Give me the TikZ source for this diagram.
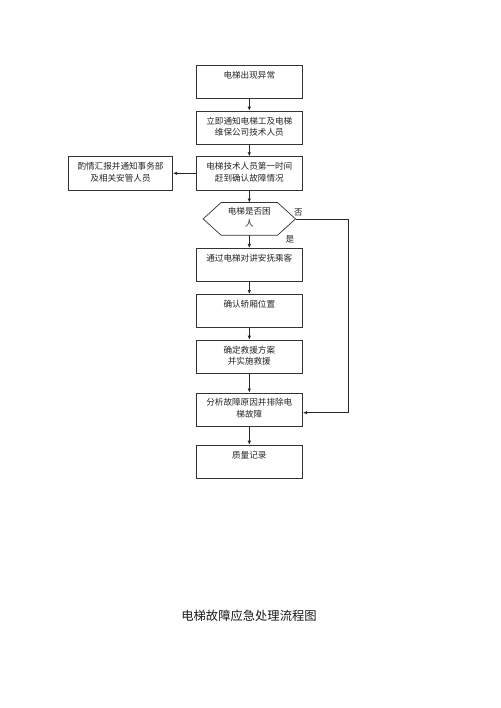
\documentclass[tikz,border=0pt]{standalone}
\usepackage{fontspec}
\newfontfamily\cjk{Noto Sans CJK SC}
\usetikzlibrary{arrows.meta}
\begin{document}
\begin{tikzpicture}[x=1pt,y=-1pt,
  box/.style={draw=black!80, line width=0.7pt, minimum width=106.7pt, minimum height=33.3pt, inner sep=0pt},
  sidebox/.style={draw=black!80, line width=0.7pt, minimum width=104.4pt, minimum height=33.3pt, inner sep=0pt},
  txt/.style={font=\cjk\fontsize{8.6}{11.6}\selectfont, text=black!85, align=center, inner sep=0pt, anchor=north},
  conn/.style={draw=black!85, line width=0.7pt, -{Latex[length=4pt,width=3.5pt]}},
  lbl/.style={font=\cjk\fontsize{8.6}{10}\selectfont, text=black!85, inner sep=0pt}]
\useasboundingbox (0,0) rectangle (500,708);
\fill[white] (0,0) rectangle (500,708);
% boxes
\node[box] (b1) at (249.3,81.7) {};
\node[box] (b2) at (249.3,127.7) {};
\node[box] (b3) at (249.3,173.3) {};
\node[sidebox] (s1) at (120.5,173.3) {};
\node[draw=none, minimum width=92pt, minimum height=32.3pt, inner sep=0pt] (dec) at (249.3,218.9) {};
\node[box] (b4) at (249.3,265) {};
\node[box] (b5) at (249.3,311) {};
\node[box] (b6) at (249.3,356.7) {};
\node[box] (b7) at (249.3,409.5) {};
\node[box] (b8) at (249.3,461.7) {};
% hexagon
\draw[draw=black!80, line width=0.7pt] (dec.west) -- ([xshift=18pt]dec.north west) -- ([xshift=-18pt]dec.north east) -- (dec.east) -- ([xshift=-18pt]dec.south east) -- ([xshift=18pt]dec.south west) -- cycle;
% texts
\node[txt] (t1) at ([yshift=-6pt]b1.north) {电梯出现异常};
\node[txt] (t2) at ([yshift=-6pt]b2.north) {立即通知电梯工及电梯\\维保公司技术人员};
\node[txt] (t3) at ([yshift=-6pt]b3.north) {电梯技术人员第一时间\\赶到确认故障情况};
\node[txt] (ts) at ([yshift=-6pt]s1.north) {酌情汇报并通知事务部\\及相关安管人员};
\node[txt] (td) at ([yshift=-5pt]dec.north) {电梯是否困\\人};
\node[txt] (t4) at ([yshift=-6pt]b4.north) {通过电梯对讲安抚乘客};
\node[txt] (t5) at ([yshift=-6pt]b5.north) {确认轿厢位置};
\node[txt] (t6) at ([yshift=-6pt]b6.north) {确定救援方案\\并实施救援};
\node[txt] (t7) at ([yshift=-6pt]b7.north) {分析故障原因并排除电\\梯故障};
\node[txt] (t8) at ([yshift=-6pt]b8.north) {质量记录};
% connectors
\draw[conn] (b1) -- (b2);
\draw[conn] (b2) -- (b3);
\draw[conn] (b3) -- (s1);
\draw[conn] (b3) -- (dec);
\draw[conn] (dec) -- (b4);
\draw[conn] (b4) -- (b5);
\draw[conn] (b5) -- (b6);
\draw[conn] (b6) -- (b7);
\draw[conn] (b7) -- (b8);
\coordinate (r1) at (348.3,218.9);
\coordinate (r2) at (348.3,412.7);
\draw[conn] (dec.east) -- (r1) -- (r2) -- (r2 -| b7.east);
% labels
\node[lbl] (no) at (298.5,212.7) {否};
\node[lbl] (yes) at (290,239.5) {是};
% title
\node[font=\cjk\fontsize{12.3}{14}\selectfont, text=black!90, inner sep=0pt] (title) at (249,616) {电梯故障应急处理流程图};
\end{tikzpicture}
\end{document}
